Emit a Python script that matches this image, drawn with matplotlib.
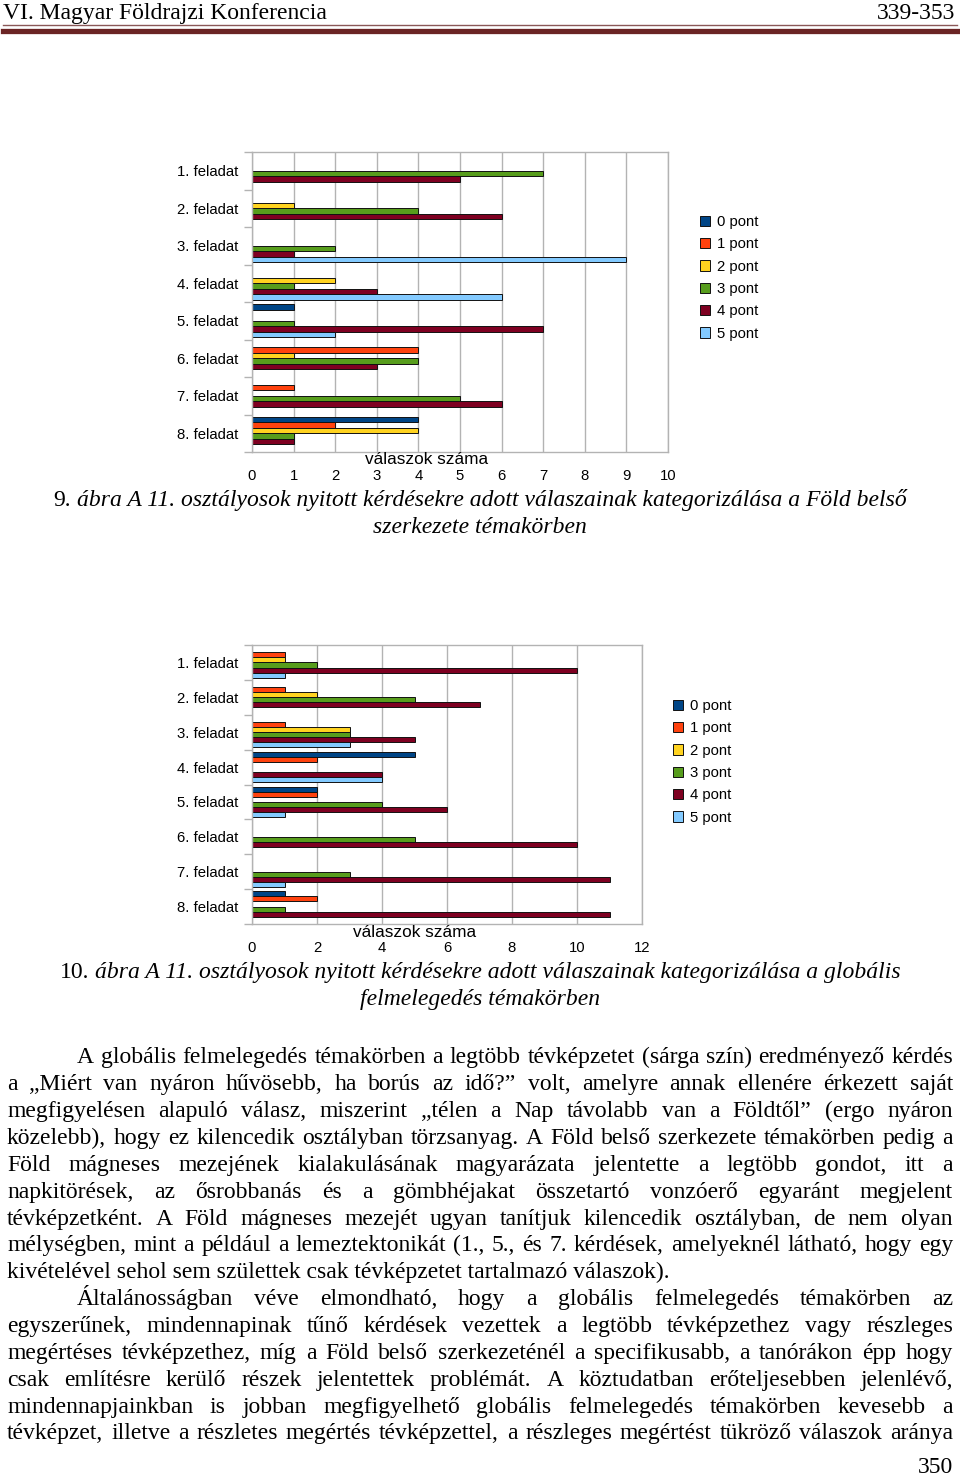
import matplotlib
matplotlib.use("Agg")
import matplotlib.pyplot as plt
from matplotlib.patches import Patch
import numpy as np

plt.rcParams["font.family"] = ["Liberation Sans", "DejaVu Sans"]

W, H = 960, 1476

categories = ["1. feladat", "2. feladat", "3. feladat", "4. feladat",
              "5. feladat", "6. feladat", "7. feladat", "8. feladat"]
series_names = ["0 pont", "1 pont", "2 pont", "3 pont", "4 pont", "5 pont"]
series_colors = ["#004586", "#ff420e", "#ffd320", "#579d1c", "#7e0021", "#83caff"]

# 9. ábra - a Föld belső szerkezete (válaszok száma pontszám szerint)
fold_0 = [0, 0, 0, 0, 1, 0, 0, 4]
fold_1 = [0, 0, 0, 0, 0, 4, 1, 2]
fold_2 = [0, 1, 0, 2, 0, 1, 0, 4]
fold_3 = [7, 4, 2, 1, 1, 4, 5, 1]
fold_4 = [5, 6, 1, 3, 7, 3, 6, 1]
fold_5 = [0, 0, 9, 6, 2, 0, 0, 0]

# 10. ábra - globális felmelegedés
glob_0 = [0, 0, 0, 5, 2, 0, 0, 1]
glob_1 = [1, 1, 1, 2, 2, 0, 0, 2]
glob_2 = [1, 2, 3, 0, 0, 0, 0, 0]
glob_3 = [2, 5, 3, 0, 4, 5, 3, 1]
glob_4 = [10, 7, 5, 4, 6, 10, 11, 11]
glob_5 = [1, 0, 3, 4, 1, 0, 1, 0]

header_left = "VI. Magyar Földrajzi Konferencia"
header_right = "339-353"
page_number = "350"

caption1 = [("9.", "normal"), ("ábra A 11. osztályosok nyitott kérdésekre adott válaszainak kategorizálása a Föld belső", "italic")]
caption1b = "szerkezete témakörben"
caption2 = [("10.", "normal"), ("ábra A 11. osztályosok nyitott kérdésekre adott válaszainak kategorizálása a globális", "italic")]
caption2b = "felmelegedés témakörben"

# (text, first line of paragraph, last line of paragraph)
para_lines = [
    ("A globális felmelegedés témakörben a legtöbb tévképzetet (sárga szín) eredményező kérdés", True, False),
    ("a „Miért van nyáron hűvösebb, ha borús az idő?” volt, amelyre annak ellenére érkezett saját", False, False),
    ("megfigyelésen alapuló válasz, miszerint „télen a Nap távolabb van a Földtől” (ergo nyáron", False, False),
    ("közelebb), hogy ez kilencedik osztályban törzsanyag. A Föld belső szerkezete témakörben pedig a", False, False),
    ("Föld mágneses mezejének kialakulásának magyarázata jelentette a legtöbb gondot, itt a", False, False),
    ("napkitörések, az ősrobbanás és a gömbhéjakat összetartó vonzóerő egyaránt megjelent", False, False),
    ("tévképzetként. A Föld mágneses mezejét ugyan tanítjuk kilencedik osztályban, de nem olyan", False, False),
    ("mélységben, mint a például a lemeztektonikát (1., 5., és 7. kérdések, amelyeknél látható, hogy egy", False, False),
    ("kivételével sehol sem születtek csak tévképzetet tartalmazó válaszok).", False, True),
    ("Általánosságban véve elmondható, hogy a globális felmelegedés témakörben az", True, False),
    ("egyszerűnek, mindennapinak tűnő kérdések vezettek a legtöbb tévképzethez vagy részleges", False, False),
    ("megértéses tévképzethez, míg a Föld belső szerkezeténél a specifikusabb, a tanórákon épp hogy", False, False),
    ("csak említésre kerülő részek jelentettek problémát. A köztudatban erőteljesebben jelenlévő,", False, False),
    ("mindennapjainkban is jobban megfigyelhető globális felmelegedés témakörben kevesebb a", False, False),
    ("tévképzet, illetve a részletes megértés tévképzettel, a részleges megértést tükröző válaszok aránya", False, False),
]

fig = plt.figure(figsize=(W / 100, H / 100), dpi=100)
fig.patch.set_facecolor("white")
renderer = fig.canvas.get_renderer()
SERIF = "Liberation Serif"


def fx(x):
    return x / W


def fy(y):
    return 1 - y / H


def width_of(t):
    return t.get_window_extent(renderer).width


def draw_chart(box, data, xmax, xstep, legend_at, title_at):
    left, top, right, bottom = box
    ax = fig.add_axes([fx(left), fy(bottom), (right - left) / W, (bottom - top) / H])
    n = len(series_names)
    group = 0.875
    h = group / n
    y = np.arange(len(categories))
    for k, (vals, col) in enumerate(zip(data, series_colors)):
        vals = np.array(vals)
        ax.barh(y - group / 2 + h * (k + 0.5), vals, height=h, color=col,
                edgecolor="#111111", linewidth=np.where(vals > 0, 0.7, 0))
    ax.set_xlim(0, xmax)
    ax.set_ylim(len(categories) - 0.5, -0.5)
    ax.set_xticks(np.arange(0, xmax + 1, xstep))
    ax.set_yticks(y)
    ax.set_yticklabels(categories)
    ax.set_yticks(np.arange(-0.5, len(categories)), minor=True)
    ax.tick_params(axis="y", which="major", length=0, pad=10, labelsize=10.7)
    ax.tick_params(axis="y", which="minor", length=6, color="#b3b3b3", width=1)
    ax.tick_params(axis="x", length=0, pad=12, labelsize=10.7)
    ax.set_axisbelow(True)
    ax.xaxis.grid(True, color="#b3b3b3", linewidth=1)
    for s in ax.spines.values():
        s.set_color("#b3b3b3")
        s.set_linewidth(1)
    fig.text(fx(title_at[0]), fy(title_at[1]), "válaszok száma", fontsize=12.4,
             ha="center", va="baseline")
    handles = [Patch(facecolor=c, edgecolor="#111111", linewidth=0.7) for c in series_colors]
    fig.legend(handles, series_names, loc="upper left",
               bbox_to_anchor=(fx(legend_at[0]), fy(legend_at[1])),
               frameon=False, fontsize=10.7, handlelength=0.68, handleheight=0.68,
               handletextpad=0.45, labelspacing=0.56, borderpad=0, borderaxespad=0)
    return ax


def caption_line(parts, ybase, size):
    arts = [fig.text(0, fy(ybase), s, fontsize=size, family=SERIF, style=st,
                     ha="left", va="baseline") for s, st in parts]
    widths = [width_of(a) for a in arts]
    space = 0.25 * size * 100 / 72
    total = sum(widths) + space * (len(arts) - 1)
    x = 480 - total / 2
    for a, w in zip(arts, widths):
        a.set_x(fx(x))
        x += w + space


def para_line(text, x0, x1, ybase, size, justify):
    if not justify:
        fig.text(fx(x0), fy(ybase), text, fontsize=size, family=SERIF,
                 ha="left", va="baseline")
        return
    words = text.split(" ")
    arts = [fig.text(0, fy(ybase), w, fontsize=size, family=SERIF,
                     ha="left", va="baseline") for w in words]
    widths = [width_of(a) for a in arts]
    gap = (x1 - x0 - sum(widths)) / (len(words) - 1)
    x = x0
    for a, w in zip(arts, widths):
        a.set_x(fx(x))
        x += w + gap


# header
fig.text(fx(3), fy(19), header_left, fontsize=17, family=SERIF, ha="left", va="baseline")
fig.text(fx(955), fy(19), header_right, fontsize=17, family=SERIF, ha="right", va="baseline")
fig.add_artist(plt.Line2D([fx(3), fx(957)], [fy(25), fy(25)], color="#8a5858", linewidth=1.0))
fig.add_artist(plt.Line2D([fx(3), fx(957)], [fy(30.5), fy(30.5)], color="#6b2424", linewidth=3.8))

fold_data = [fold_0, fold_1, fold_2, fold_3, fold_4, fold_5]
glob_data = [glob_0, glob_1, glob_2, glob_3, glob_4, glob_5]

draw_chart((252, 152, 668, 452), fold_data, 10, 1, (700, 215), (427, 464))
draw_chart((252, 645, 642, 924), glob_data, 12, 2, (673, 699), (415, 937))

cap_size = 17.0
caption_line(caption1, 506, cap_size)
fig.text(fx(480), fy(533), caption1b, fontsize=cap_size, family=SERIF, style="italic",
         ha="center", va="baseline")
caption_line(caption2, 978, cap_size)
fig.text(fx(480), fy(1005), caption2b, fontsize=cap_size, family=SERIF, style="italic",
         ha="center", va="baseline")

base = 1063.3
step = 26.87
for i, (text, first, last) in enumerate(para_lines):
    x0 = 77 if first else 7
    para_line(text, x0, 953, base + i * step, 17.0, not last)

fig.text(fx(953), fy(1473), page_number, fontsize=17.0, family=SERIF, ha="right", va="baseline")

fig.savefig("out.png", dpi=100, facecolor="white")
